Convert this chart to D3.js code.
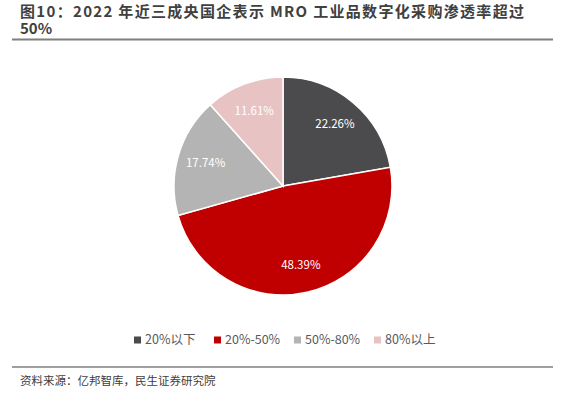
<!DOCTYPE html>
<html><head><meta charset="utf-8">
<script src="https://cdn.jsdelivr.net/npm/d3@7"></script>
<style>body{margin:0;background:#fff}svg{display:block}</style>
</head><body>
<svg id="c" width="579" height="394"></svg>
<script>
const categories = ["20%以下", "20%-50%", "50%-80%", "80%以上"];
const values = [22.26, 48.39, 17.74, 11.61];
const labels = ["22.26%", "48.39%", "17.74%", "11.61%"];
const colors = ["#4b4b4d", "#c00000", "#b4b4b4", "#e8c3c3"];
const titleLines = ["图10：2022 年近三成央国企表示  MRO  工业品数字化采购渗透率超过", "50%"];
const source = "资料来源：亿邦智库，民生证券研究院";

const svg = d3.select("#c");
const font = "'Noto Sans CJK SC','Microsoft YaHei',sans-serif";

// title
svg.selectAll("text.title").data(titleLines).join("text").attr("class", "title")
  .attr("font-family", font).attr("font-weight", "bold").attr("font-size", 15)
  .attr("fill", "#404040")
  .attr("x", 20).attr("y", (d, i) => 17 + i * 17).text(d => d)
  .attr("textLength", (d, i) => i === 0 ? 504 : null)
  .attr("lengthAdjust", "spacing");
svg.append("line").attr("x1", 12).attr("x2", 553).attr("y1", 39.5).attr("y2", 39.5)
  .attr("stroke", "#7f7f7f").attr("stroke-width", 2);

// pie
const cx = 283, cy = 186, r = 109;
const pie = d3.pie().sort(null).value(d => d)(values);
const arc = d3.arc().innerRadius(0).outerRadius(r);
const labelArc = d3.arc().innerRadius(r * 0.74).outerRadius(r * 0.74);
const g = svg.append("g").attr("transform", `translate(${cx},${cy})`);
g.selectAll("path").data(pie).join("path")
  .attr("d", arc).attr("fill", (d, i) => colors[i])
  .attr("stroke", "#fff").attr("stroke-width", 1.5);
g.selectAll("text").data(pie).join("text")
  .attr("transform", d => `translate(${labelArc.centroid(d)})`)
  .attr("text-anchor", "middle").attr("dy", "0.35em")
  .attr("font-family", font).attr("font-size", 11.5).attr("fill", "#fff")
  .text((d, i) => labels[i]);

// legend
const legendX = d3.scalePoint().domain(categories).range([134, 374]);
const lg = svg.append("g").selectAll("g").data(categories).join("g")
  .attr("transform", d => `translate(${legendX(d)},340)`);
lg.append("rect").attr("x", 0).attr("y", -3.5).attr("width", 7).attr("height", 7)
  .attr("fill", (d, i) => colors[i]);
lg.append("text").attr("x", 11).attr("dy", "0.35em")
  .attr("font-family", font).attr("font-size", 12.5).attr("fill", "#595959").text(d => d);

// footer
svg.append("line").attr("x1", 12).attr("x2", 553).attr("y1", 367).attr("y2", 367)
  .attr("stroke", "#7f7f7f").attr("stroke-width", 1.5);
svg.append("text").attr("x", 20).attr("y", 381).attr("dy", "0.35em")
  .attr("font-family", font).attr("font-size", 11.5).attr("fill", "#404040").text(source);
</script>
</body></html>
